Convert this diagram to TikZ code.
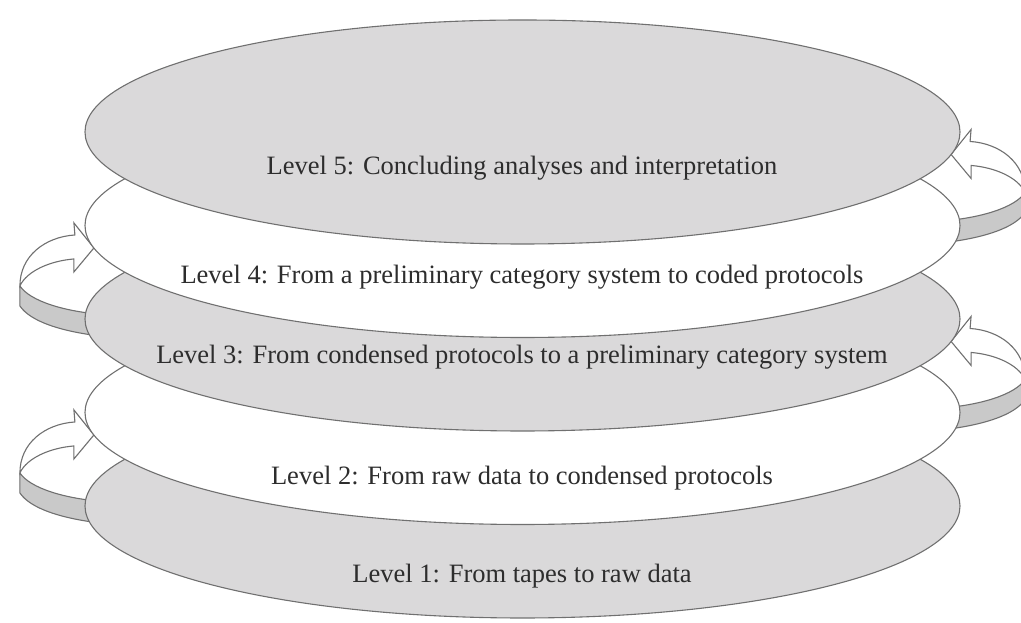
\documentclass[tikz,border=0pt]{standalone}
\usepackage{fontspec}
\setmainfont{Liberation Serif}
\usetikzlibrary{shapes.geometric}
\pgfdeclarelayer{background}
\pgfsetlayers{background,main}
\definecolor{ellgray}{RGB}{218,217,218}
\definecolor{bandgray}{RGB}{201,201,201}
\definecolor{edgegray}{RGB}{112,112,112}
\definecolor{txtcol}{RGB}{45,45,45}
\tikzset{
  lvbase/.style={ellipse, draw=edgegray, line width=1.1pt, minimum width=875pt,
    minimum height=224pt, inner sep=0pt, outer sep=0pt},
  lvgray/.style={lvbase, fill=ellgray},
  lvwhite/.style={lvbase, fill=white},
  lab/.style={text=txtcol, font=\fontsize{26.5}{30}\selectfont, inner sep=0pt},
  bandface/.style={fill=bandgray, draw=edgegray, line width=1.1pt, line join=round},
  topface/.style={fill=white, draw=edgegray, line width=1.1pt, line join=miter},
  cyclearrow/.pic={
    \path[bandface] (-74,-38) -- (-74,-58) .. controls (-64,-73) and (-34,-84) .. (14,-89)
       -- (14,-67) .. controls (-30,-64) and (-64,-53) .. (-74,-38) -- cycle;
    \path[topface] (0,0) -- (-20,25) -- (-19,13) .. controls (-49,11) and (-74,-8) .. (-74,-38)
       .. controls (-67,-23) and (-44,-13) .. (-20,-11) -- (-20,-24) -- cycle;
  }
}
\begin{document}
\begin{tikzpicture}[x=1pt,y=1pt]
\useasboundingbox (0,0) rectangle (1021,623);
\node[lvgray]  (L1) at (522.5,117) {};
\node[lvwhite] (L2) at (522.5,210.5) {};
\node[lvgray]  (L3) at (522.5,304) {};
\node[lvwhite] (L4) at (522.5,397.5) {};
\node[lvgray]  (L5) at (522.5,491) {};
\node[lab] (t5) at (522,455) {Level 5: Concluding analyses and interpretation};
\node[lab] (t4) at (522,346) {Level 4: From a preliminary category system to coded protocols};
\node[lab] (t3) at (522,266) {Level 3: From condensed protocols to a preliminary category system};
\node[lab] (t2) at (522,145) {Level 2: From raw data to condensed protocols};
\node[lab] (t1) at (522,47) {Level 1: From tapes to raw data};
\begin{pgfonlayer}{background}
\pic at (L4.183) {cyclearrow};
\pic at (L2.183) {cyclearrow};
\pic[xscale=-1] at (L5.357) {cyclearrow};
\pic[xscale=-1] at (L3.357) {cyclearrow};
\end{pgfonlayer}
\end{tikzpicture}
\end{document}
